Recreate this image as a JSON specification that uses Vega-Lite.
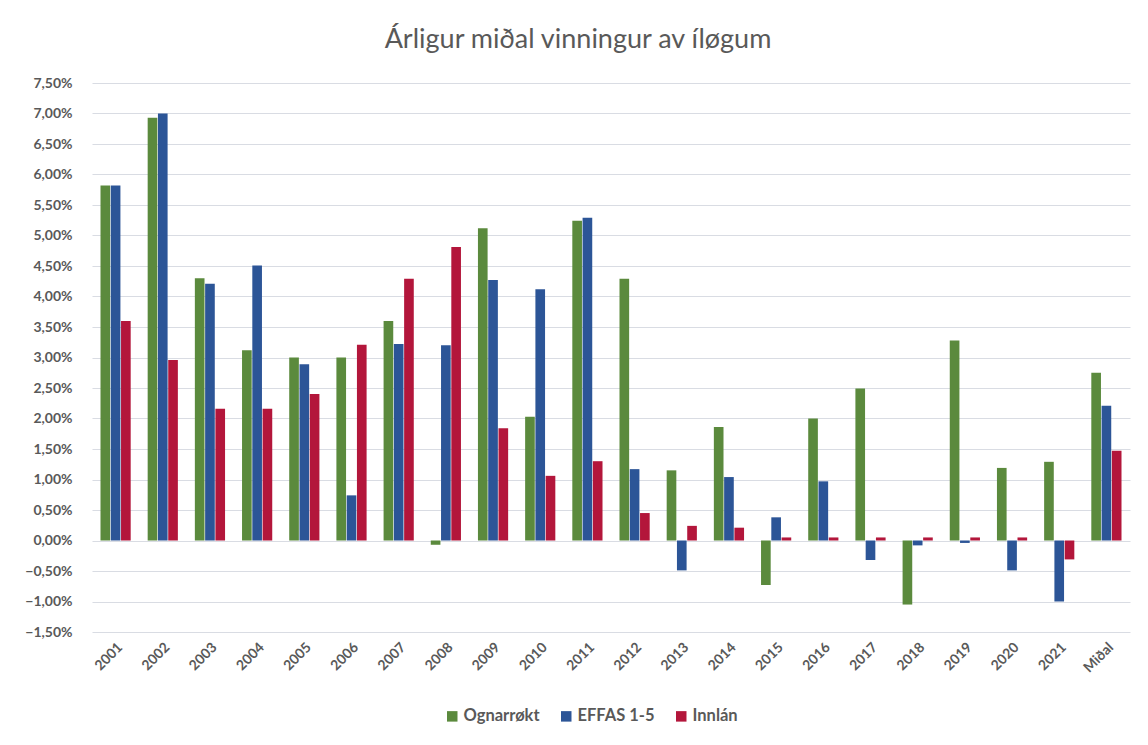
{
  "$schema": "https://vega.github.io/schema/vega-lite/v6.json",
  "width": 1038,
  "height": 549,
  "autosize": "none",
  "padding": {"left": 92, "top": 83, "right": 18, "bottom": 113},
  "background": "white",
  "title": {
    "text": "Árligur miðal vinningur av íløgum",
    "font": "Lato",
    "fontSize": 27,
    "fontWeight": "normal",
    "color": "#595959",
    "anchor": "middle",
    "dx": -33,
    "offset": 22
  },
  "data": {
    "values": [
      {"ar": "2001", "s": "Ognarrøkt", "v": 0.0582}, {"ar": "2001", "s": "EFFAS 1-5", "v": 0.0582}, {"ar": "2001", "s": "Innlán", "v": 0.0360},
      {"ar": "2002", "s": "Ognarrøkt", "v": 0.0693}, {"ar": "2002", "s": "EFFAS 1-5", "v": 0.0700}, {"ar": "2002", "s": "Innlán", "v": 0.0296},
      {"ar": "2003", "s": "Ognarrøkt", "v": 0.0430}, {"ar": "2003", "s": "EFFAS 1-5", "v": 0.0421}, {"ar": "2003", "s": "Innlán", "v": 0.0216},
      {"ar": "2004", "s": "Ognarrøkt", "v": 0.0312}, {"ar": "2004", "s": "EFFAS 1-5", "v": 0.0451}, {"ar": "2004", "s": "Innlán", "v": 0.0216},
      {"ar": "2005", "s": "Ognarrøkt", "v": 0.0300}, {"ar": "2005", "s": "EFFAS 1-5", "v": 0.0289}, {"ar": "2005", "s": "Innlán", "v": 0.0240},
      {"ar": "2006", "s": "Ognarrøkt", "v": 0.0300}, {"ar": "2006", "s": "EFFAS 1-5", "v": 0.0074}, {"ar": "2006", "s": "Innlán", "v": 0.0321},
      {"ar": "2007", "s": "Ognarrøkt", "v": 0.0360}, {"ar": "2007", "s": "EFFAS 1-5", "v": 0.0322}, {"ar": "2007", "s": "Innlán", "v": 0.0429},
      {"ar": "2008", "s": "Ognarrøkt", "v": -0.0007}, {"ar": "2008", "s": "EFFAS 1-5", "v": 0.0320}, {"ar": "2008", "s": "Innlán", "v": 0.0481},
      {"ar": "2009", "s": "Ognarrøkt", "v": 0.0512}, {"ar": "2009", "s": "EFFAS 1-5", "v": 0.0427}, {"ar": "2009", "s": "Innlán", "v": 0.0184},
      {"ar": "2010", "s": "Ognarrøkt", "v": 0.0203}, {"ar": "2010", "s": "EFFAS 1-5", "v": 0.0412}, {"ar": "2010", "s": "Innlán", "v": 0.0106},
      {"ar": "2011", "s": "Ognarrøkt", "v": 0.0524}, {"ar": "2011", "s": "EFFAS 1-5", "v": 0.0529}, {"ar": "2011", "s": "Innlán", "v": 0.0130},
      {"ar": "2012", "s": "Ognarrøkt", "v": 0.0429}, {"ar": "2012", "s": "EFFAS 1-5", "v": 0.0117}, {"ar": "2012", "s": "Innlán", "v": 0.0045},
      {"ar": "2013", "s": "Ognarrøkt", "v": 0.0115}, {"ar": "2013", "s": "EFFAS 1-5", "v": -0.0049}, {"ar": "2013", "s": "Innlán", "v": 0.0024},
      {"ar": "2014", "s": "Ognarrøkt", "v": 0.0186}, {"ar": "2014", "s": "EFFAS 1-5", "v": 0.0104}, {"ar": "2014", "s": "Innlán", "v": 0.0021},
      {"ar": "2015", "s": "Ognarrøkt", "v": -0.0073}, {"ar": "2015", "s": "EFFAS 1-5", "v": 0.0038}, {"ar": "2015", "s": "Innlán", "v": 0.0005},
      {"ar": "2016", "s": "Ognarrøkt", "v": 0.0200}, {"ar": "2016", "s": "EFFAS 1-5", "v": 0.0097}, {"ar": "2016", "s": "Innlán", "v": 0.0005},
      {"ar": "2017", "s": "Ognarrøkt", "v": 0.0249}, {"ar": "2017", "s": "EFFAS 1-5", "v": -0.0032}, {"ar": "2017", "s": "Innlán", "v": 0.0005},
      {"ar": "2018", "s": "Ognarrøkt", "v": -0.0105}, {"ar": "2018", "s": "EFFAS 1-5", "v": -0.0008}, {"ar": "2018", "s": "Innlán", "v": 0.0005},
      {"ar": "2019", "s": "Ognarrøkt", "v": 0.0328}, {"ar": "2019", "s": "EFFAS 1-5", "v": -0.0004}, {"ar": "2019", "s": "Innlán", "v": 0.0005},
      {"ar": "2020", "s": "Ognarrøkt", "v": 0.0119}, {"ar": "2020", "s": "EFFAS 1-5", "v": -0.0049}, {"ar": "2020", "s": "Innlán", "v": 0.0005},
      {"ar": "2021", "s": "Ognarrøkt", "v": 0.0129}, {"ar": "2021", "s": "EFFAS 1-5", "v": -0.0100}, {"ar": "2021", "s": "Innlán", "v": -0.0031},
      {"ar": "Miðal", "s": "Ognarrøkt", "v": 0.0275}, {"ar": "Miðal", "s": "EFFAS 1-5", "v": 0.0221}, {"ar": "Miðal", "s": "Innlán", "v": 0.0147}
    ]
  },
  "mark": {"type": "bar"},
  "encoding": {
    "x": {
      "field": "ar",
      "type": "nominal",
      "sort": null,
      "title": null,
      "scale": {"paddingInner": 0.36, "paddingOuter": 0.18},
      "axis": {
        "labelAngle": -45,
        "labelFont": "Lato",
        "labelFontSize": 14,
        "labelFontWeight": "bold",
        "labelColor": "#595959",
        "domain": false,
        "ticks": false,
        "labelPadding": 8,
        "grid": false
      }
    },
    "xOffset": {"field": "s", "type": "nominal", "sort": ["Ognarrøkt", "EFFAS 1-5", "Innlán"], "scale": {"paddingInner": 0.06}},
    "y": {
      "field": "v",
      "type": "quantitative",
      "title": null,
      "scale": {"domain": [-0.015, 0.075], "nice": false, "zero": false},
      "axis": {
        "values": [-0.015, -0.01, -0.005, 0, 0.005, 0.01, 0.015, 0.02, 0.025, 0.03, 0.035, 0.04, 0.045, 0.05, 0.055, 0.06, 0.065, 0.07, 0.075],
        "labelExpr": "replace(format(datum.value, '.2%'), '.', ',')",
        "labelFont": "Lato",
        "labelFontSize": 14,
        "labelFontWeight": "bold",
        "labelColor": "#595959",
        "domain": false,
        "ticks": false,
        "labelPadding": 20,
        "gridColor": "#d9dce3",
        "gridWidth": 1.2
      }
    },
    "color": {
      "field": "s",
      "type": "nominal",
      "sort": ["Ognarrøkt", "EFFAS 1-5", "Innlán"],
      "scale": {"domain": ["Ognarrøkt", "EFFAS 1-5", "Innlán"], "range": ["#5b8a3d", "#2c5597", "#b3163b"]},
      "legend": {
        "title": null,
        "orient": "none",
        "direction": "horizontal",
        "legendX": 352,
        "legendY": 625,
        "symbolType": "square",
        "symbolSize": 110,
        "symbolStrokeWidth": 0,
        "labelFont": "Lato",
        "labelFontSize": 16.5,
        "labelFontWeight": "bold",
        "labelColor": "#595959",
        "labelOffset": 3,
        "columnPadding": 18
      }
    }
  },
  "config": {"view": {"stroke": null}}
}
